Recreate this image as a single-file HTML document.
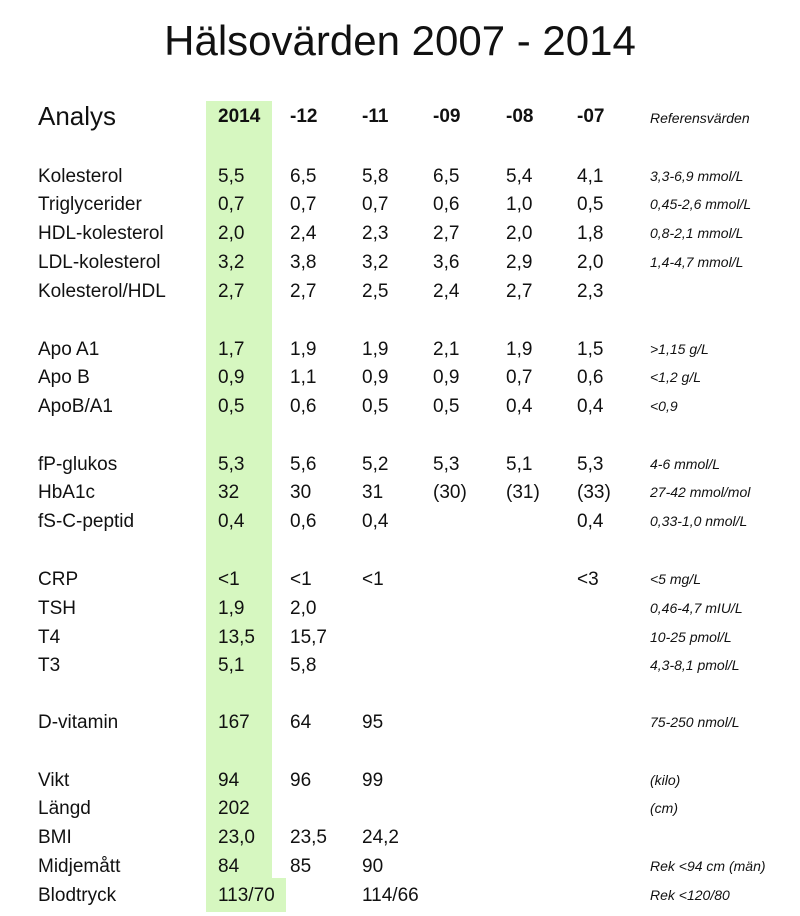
<!DOCTYPE html>
<html><head><meta charset="utf-8"><style>
body{margin:0;width:800px;height:916px;background:#fff;position:relative;overflow:hidden;font-family:"Liberation Sans",sans-serif;color:#111}
.t{position:absolute;white-space:nowrap;line-height:1}
.r{font-size:19px}
.h{font-size:19px;font-weight:bold}
.i{font-size:14px;font-style:italic}
</style></head><body>
<div style="position:absolute;left:206px;top:101px;width:66px;height:778px;background:#d6f7c0"></div>
<div style="position:absolute;left:206px;top:878px;width:80px;height:34px;background:#d6f7c0"></div>
<div class="t" style="left:0;width:800px;text-align:center;top:20px;font-size:42px">Hälsovärden 2007 - 2014</div>
<div class="t" style="left:38px;top:103px;font-size:26px">Analys</div>
<div class="t h" style="left:218px;top:107px">2014</div>
<div class="t h" style="left:290px;top:107px">-12</div>
<div class="t h" style="left:362px;top:107px">-11</div>
<div class="t h" style="left:433px;top:107px">-09</div>
<div class="t h" style="left:506px;top:107px">-08</div>
<div class="t h" style="left:577px;top:107px">-07</div>
<div class="t i" style="left:650px;top:111px">Referensvärden</div>
<div id="rows"></div>
<script>
const rows=[
[175,"Kolesterol","5,5","6,5","5,8","6,5","5,4","4,1","3,3-6,9 mmol/L"],
[203,"Triglycerider","0,7","0,7","0,7","0,6","1,0","0,5","0,45-2,6 mmol/L"],
[232,"HDL-kolesterol","2,0","2,4","2,3","2,7","2,0","1,8","0,8-2,1 mmol/L"],
[261,"LDL-kolesterol","3,2","3,8","3,2","3,6","2,9","2,0","1,4-4,7 mmol/L"],
[290,"Kolesterol/HDL","2,7","2,7","2,5","2,4","2,7","2,3",""],
[348,"Apo A1","1,7","1,9","1,9","2,1","1,9","1,5",">1,15 g/L"],
[376,"Apo B","0,9","1,1","0,9","0,9","0,7","0,6","<1,2 g/L"],
[405,"ApoB/A1","0,5","0,6","0,5","0,5","0,4","0,4","<0,9"],
[463,"fP-glukos","5,3","5,6","5,2","5,3","5,1","5,3","4-6 mmol/L"],
[491,"HbA1c","32","30","31","(30)","(31)","(33)","27-42 mmol/mol"],
[520,"fS-C-peptid","0,4","0,6","0,4","","","0,4","0,33-1,0 nmol/L"],
[578,"CRP","<1","<1","<1","","","<3","<5 mg/L"],
[607,"TSH","1,9","2,0","","","","","0,46-4,7 mIU/L"],
[636,"T4","13,5","15,7","","","","","10-25 pmol/L"],
[664,"T3","5,1","5,8","","","","","4,3-8,1 pmol/L"],
[721,"D-vitamin","167","64","95","","","","75-250 nmol/L"],
[779,"Vikt","94","96","99","","","","(kilo)"],
[807,"Längd","202","","","","","","(cm)"],
[836,"BMI","23,0","23,5","24,2","","","",""],
[865,"Midjemått","84","85","90","","","","Rek <94 cm (män)"],
[894,"Blodtryck","113/70","","114/66","","","","Rek <120/80"]];
const xs=[38,218,290,362,433,506,577];
let h="";
for(const r of rows){
 for(let k=0;k<7;k++){ if(r[k+1]) h+=`<div class="t r" style="left:${xs[k]}px;top:${r[0]-8}px">${r[k+1].replace(/</g,"&lt;")}</div>`;}
 if(r[8]) h+=`<div class="t i" style="left:650px;top:${r[0]-6}px">${r[8].replace(/</g,"&lt;").replace(/>/g,"&gt;")}</div>`;
}
document.getElementById("rows").innerHTML=h;
</script>
</body></html>
